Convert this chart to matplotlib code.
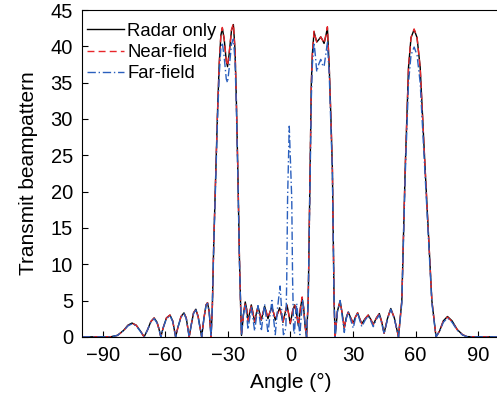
import matplotlib
matplotlib.use("Agg")
import matplotlib.pyplot as plt

plt.rcParams['font.family'] = ['Liberation Sans', 'DejaVu Sans']
plt.rcParams['font.size'] = 14

# (angle in degrees, beampattern value)
radar_pts = [
    (-100, 0), (-90, 0), (-86, 0.02), (-83, 0.2), (-80, 0.9), (-78, 1.6), (-76, 1.9), (-74, 1.6), (-72, 0.8), (-70.2, 0),
    (-68.5, 1.0), (-67, 2.1), (-65.4, 2.6), (-64, 2.0), (-63, 1.0), (-62.2, 0),
    (-61, 1.3), (-59.5, 2.6), (-57.8, 3.0), (-56.5, 2.2), (-55.1, 0),
    (-54, 1.3), (-52.5, 2.8), (-51.1, 3.3), (-50, 2.6), (-48.6, 0),
    (-47.5, 1.8), (-46.5, 3.3), (-45.4, 3.8), (-44.3, 2.8), (-42.6, 0),
    (-41.5, 2.6), (-40.5, 4.4), (-39.8, 4.7), (-39, 3.5), (-38.1, 0),
    (-37.5, 4), (-36.8, 13), (-35.8, 23), (-35.0, 31), (-34.2, 37.5), (-33.4, 41.5), (-32.7, 42.5), (-31.8, 41),
    (-30.8, 38), (-30.2, 37.2), (-29.4, 39), (-28.3, 42.2), (-27.4, 43.0), (-26.6, 39.5), (-26.0, 33),
    (-25.2, 22), (-24.5, 11), (-23.9, 4), (-23.5, 0.2),
    (-22.6, 3.0), (-21.7, 4.8), (-21.0, 3.8), (-20.4, 2.1), (-19.6, 3.3), (-18.8, 4.4), (-18.0, 3.3), (-17.2, 2.0),
    (-16.4, 3.2), (-15.6, 4.2), (-14.8, 3.3), (-14.0, 2.3), (-13.2, 3.3), (-12.4, 4.2), (-11.6, 3.4), (-10.8, 2.5),
    (-9.9, 3.4), (-8.9, 4.1), (-8.1, 3.3), (-7.3, 2.3), (-6.2, 3.2), (-5.2, 4.0), (-4.4, 3.1), (-3.6, 2.0),
    (-2.6, 3.3), (-1.7, 4.4), (-0.9, 3.2), (-0.1, 1.8), (1.0, 3.5), (2.0, 4.4), (3.0, 3.0), (3.8, 1.5),
    (4.8, 4.0), (5.6, 5.3), (6.3, 4.0), (7.0, 1.5), (7.7, 0),
    (8.5, 5), (9.4, 23), (10.0, 35), (10.5, 39), (11.3, 42.0), (12.0, 41.2), (12.6, 40.6), (13.5, 40.9),
    (14.5, 41.3), (15.3, 40.9), (16.1, 40.4), (17.0, 41.5), (17.7, 42.6), (18.6, 37), (19.4, 30), (20.1, 23),
    (20.9, 5), (21.4, 0),
    (22.5, 3.5), (23.8, 4.95), (24.8, 3.2), (25.8, 1.2), (26.7, 2.6), (27.7, 3.4), (28.9, 2.6), (30.1, 1.9),
    (31.1, 2.7), (32.2, 3.3), (33.2, 2.5), (34.2, 1.8), (35.8, 2.5), (37.3, 3.0), (38.5, 2.4), (39.7, 1.7),
    (41.2, 2.6), (42.6, 3.2), (43.8, 2.0), (44.9, 0.5), (46.5, 2.5), (48.1, 3.9), (49.8, 2.6), (51.8, 0),
    (53.4, 5), (55.0, 23), (56.6, 37.1), (57.8, 41.2), (59.3, 42.3), (60.7, 41.2), (62.2, 37.1), (64.6, 23),
    (67.8, 5), (69.8, 0),
    (71.5, 0.8), (73.3, 2.2), (75.3, 2.8), (77.5, 2.2), (80, 1.0), (82.5, 0.3), (84.6, 0.03), (90, 0), (100, 0),
]

near_pts = [
    (-100, 0), (-90, 0), (-86, 0.02), (-83, 0.2), (-80, 0.85), (-78, 1.55), (-76, 1.85), (-74, 1.6), (-72, 0.8), (-70.2, 0),
    (-68.5, 1.0), (-67, 2.1), (-65.4, 2.6), (-64, 2.0), (-63, 1.0), (-62.2, 0),
    (-61, 1.3), (-59.5, 2.6), (-57.8, 3.0), (-56.5, 2.2), (-55.1, 0),
    (-54, 1.3), (-52.5, 2.8), (-51.1, 3.3), (-50, 2.6), (-48.6, 0),
    (-47.5, 1.8), (-46.5, 3.3), (-45.4, 3.8), (-44.3, 2.8), (-42.6, 0),
    (-41.5, 2.6), (-40.5, 4.4), (-39.8, 4.7), (-39, 3.5), (-38.1, 0),
    (-37.5, 4), (-36.8, 13), (-35.8, 23), (-35.0, 31), (-34.2, 37.5), (-33.4, 41.6), (-32.7, 42.6), (-31.8, 41),
    (-30.8, 38), (-30.2, 37.3), (-29.4, 39.2), (-28.3, 42.3), (-27.4, 43.1), (-26.6, 39.5), (-26.0, 33),
    (-25.2, 22), (-24.5, 11), (-23.9, 4), (-23.5, 0.2),
    (-22.6, 3.0), (-21.7, 4.6), (-21.0, 3.7), (-20.4, 2.2), (-19.6, 3.3), (-18.8, 4.3), (-18.0, 3.3), (-17.2, 2.1),
    (-16.4, 3.2), (-15.6, 4.1), (-14.8, 3.3), (-14.0, 2.4), (-13.2, 3.3), (-12.4, 4.1), (-11.6, 3.4), (-10.8, 2.6),
    (-9.9, 3.4), (-8.9, 4.0), (-8.1, 3.3), (-7.3, 2.4), (-6.2, 3.2), (-5.2, 3.9), (-4.4, 3.1), (-3.6, 2.1),
    (-2.6, 3.3), (-1.7, 4.3), (-0.9, 3.2), (-0.1, 1.9), (1.0, 3.6), (2.0, 4.5), (3.0, 3.1), (3.8, 1.6),
    (4.8, 4.1), (5.6, 5.5), (6.3, 4.1), (7.0, 1.5), (7.7, 0),
    (8.5, 5), (9.4, 23), (10.0, 35), (10.5, 39), (11.3, 42.1), (12.0, 41.2), (12.6, 40.6), (13.5, 40.9),
    (14.5, 41.3), (15.3, 40.9), (16.1, 40.4), (17.0, 41.6), (17.7, 42.7), (18.6, 37), (19.4, 30), (20.1, 23),
    (20.9, 5), (21.4, 0),
    (22.5, 3.5), (23.8, 4.9), (24.8, 3.2), (25.8, 1.2), (26.7, 2.6), (27.7, 3.4), (28.9, 2.6), (30.1, 1.9),
    (31.1, 2.7), (32.2, 3.3), (33.2, 2.5), (34.2, 1.8), (35.8, 2.5), (37.3, 3.0), (38.5, 2.4), (39.7, 1.7),
    (41.2, 2.6), (42.6, 3.2), (43.8, 2.0), (44.9, 0.5), (46.5, 2.5), (48.1, 3.9), (49.8, 2.6), (51.8, 0),
    (53.4, 5), (55.0, 23), (56.6, 37.1), (57.8, 41.2), (59.3, 42.4), (60.7, 41.2), (62.2, 37.1), (64.6, 23),
    (67.8, 5), (69.8, 0),
    (71.5, 0.8), (73.3, 2.2), (75.3, 2.7), (77.5, 2.1), (80, 0.95), (82.5, 0.3), (84.6, 0.03), (90, 0), (100, 0),
]

far_pts = [
    (-100, 0), (-90, 0), (-86, 0.02), (-83, 0.2), (-80, 0.85), (-78, 1.5), (-76, 1.8), (-74, 1.5), (-72, 0.75), (-70.2, 0),
    (-68.5, 1.0), (-67, 2.0), (-65.4, 2.5), (-64, 1.9), (-63, 1.0), (-62.2, 0),
    (-61, 1.3), (-59.5, 2.5), (-57.8, 2.9), (-56.5, 2.1), (-55.1, 0),
    (-54, 1.3), (-52.5, 2.7), (-51.1, 3.2), (-50, 2.5), (-48.6, 0),
    (-47.5, 1.8), (-46.5, 3.2), (-45.4, 3.7), (-44.3, 2.7), (-42.6, 0),
    (-41.5, 2.6), (-40.5, 4.3), (-39.8, 4.6), (-39, 3.4), (-38.1, 0),
    (-37.5, 4), (-36.8, 12.5), (-35.8, 22.5), (-35.0, 30), (-34.2, 36), (-33.4, 39.8), (-32.7, 40.5), (-31.8, 38.5),
    (-30.8, 35.5), (-30.2, 35), (-29.4, 37), (-28.3, 40.3), (-27.4, 41), (-26.6, 38), (-26.0, 32),
    (-25.2, 21.5), (-24.5, 10.5), (-23.9, 4), (-23.5, 0.2),
    (-22.6, 3.0), (-21.7, 4.5), (-21.0, 3.0), (-20.4, 1.0), (-19.6, 2.5), (-18.8, 4.0), (-18.0, 2.5), (-17.2, 0.8),
    (-16.4, 2.5), (-15.6, 4.3), (-14.8, 2.6), (-14.0, 0.8), (-13.2, 2.8), (-12.4, 4.5), (-11.6, 2.5), (-10.8, 0.5),
    (-9.9, 2.8), (-8.9, 5.0), (-8.1, 2.5), (-7.3, 0.3), (-6.2, 4.0), (-5.0, 7.0), (-4.2, 3.5), (-3.4, 0.3),
    (-2.7, 0.6), (-2.2, 1.5), (-1.8, 8), (-1.4, 19), (-0.6, 29), (0.6, 19), (1.0, 8), (1.5, 1.0), (1.9, 0.4),
    (2.3, 2.5), (3.0, 4.6), (3.8, 2.0), (4.5, 0.3), (5.2, 3.0), (5.8, 5.0), (6.6, 3.0), (7.7, 0),
    (8.5, 5), (9.4, 22), (10.0, 33), (10.5, 37.5), (11.3, 40.5), (12.0, 38.5), (12.6, 36.5), (13.5, 37.5),
    (14.5, 38.2), (15.3, 37.5), (16.1, 37.2), (17.0, 39), (17.7, 40.5), (18.6, 36), (19.4, 29), (20.1, 22.5),
    (20.9, 5), (21.4, 0),
    (22.5, 3.5), (23.8, 5.0), (24.8, 2.8), (25.8, 0.6), (26.7, 2.4), (27.7, 3.5), (28.9, 2.3), (30.1, 1.2),
    (31.1, 2.5), (32.2, 3.3), (33.2, 2.3), (34.2, 1.4), (35.8, 2.3), (37.3, 2.9), (38.5, 2.2), (39.7, 1.4),
    (41.2, 2.4), (42.6, 3.0), (43.8, 1.8), (44.9, 0.4), (46.5, 2.4), (48.1, 3.8), (49.8, 2.5), (51.8, 0),
    (53.4, 4.7), (55.0, 22), (56.6, 35), (57.8, 38.8), (59.3, 39.9), (60.7, 38.8), (62.2, 35), (64.6, 22),
    (67.8, 4.7), (69.8, 0),
    (71.5, 0.75), (73.3, 2.0), (75.3, 2.6), (77.5, 2.0), (80, 0.9), (82.5, 0.25), (84.6, 0.03), (90, 0), (100, 0),
]

labels = ['Radar only', 'Near-field', 'Far-field']
xticks = [-90, -60, -30, 0, 30, 60, 90]
yticks = [0, 5, 10, 15, 20, 25, 30, 35, 40, 45]

fig = plt.figure(figsize=(4.97, 4.01), dpi=100)
ax = fig.add_axes([0.165, 0.16, 0.839, 0.815])

ax.plot(*zip(*radar_pts), color='black', lw=1.0, label=labels[0])
ax.plot(*zip(*near_pts), color='#e8262a', lw=1.0, ls=(0, (5, 3)), label=labels[1])
ax.plot(*zip(*far_pts), color='#2a5fbd', lw=1.0, ls=(0, (6, 2, 1, 2)), label=labels[2])

ax.set_xlim(-100, 100)
ax.set_ylim(0, 45)
ax.set_xticks(xticks)
ax.set_xticklabels([str(t).replace('-', '\u2212') for t in xticks])
ax.set_yticks(yticks)
ax.tick_params(direction='in', length=4, labelsize=14.5, pad=6.5)
ax.set_xlabel('Angle (°)', fontsize=15, labelpad=6)
ax.set_ylabel('Transmit beampattern', fontsize=15, labelpad=9)

ax.legend(loc='upper left', bbox_to_anchor=(0.0, 0.975), frameon=False, fontsize=13.3,
          handlelength=2.0, handletextpad=0.2, labelspacing=0.23,
          borderaxespad=0.15, borderpad=0.1)

fig.savefig('out.png', dpi=100)
